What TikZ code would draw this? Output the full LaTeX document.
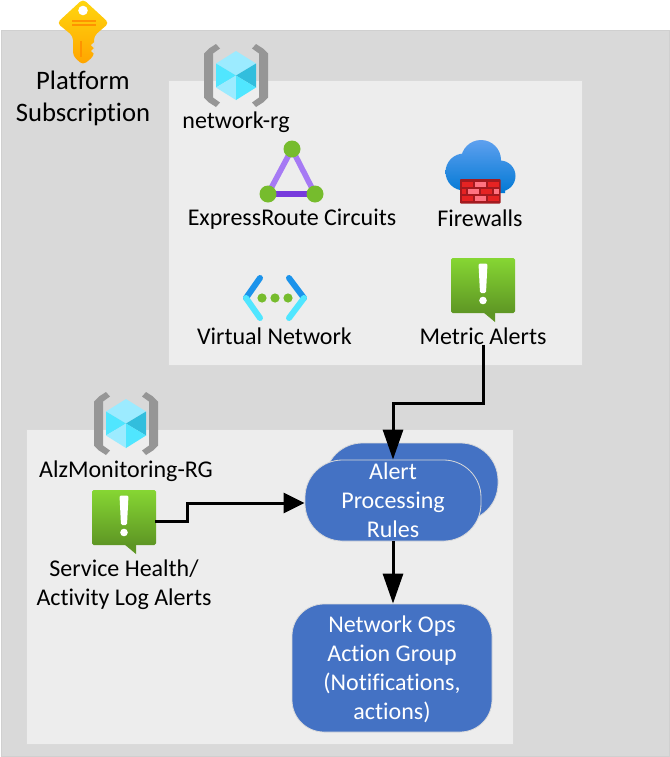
\documentclass[tikz,border=0pt]{standalone}
\usepackage{fontspec}
\setmainfont[Ligatures=NoCommon]{Carlito}
\usetikzlibrary{arrows.meta}
\definecolor{outerfill}{HTML}{D9D9D9}
\definecolor{outerline}{HTML}{D0D0D0}
\definecolor{innerfill}{HTML}{EDEDED}
\definecolor{innerline}{HTML}{DADADA}
\definecolor{flowblue}{HTML}{4472C4}
\definecolor{leafgreen}{HTML}{76BC2D}
\definecolor{bracketgray}{HTML}{969696}
\tikzset{
  x=0.75pt,y=-0.75pt,
  groupbox/.style={draw=#1,line width=0.75pt},
  lbl/.style={inner sep=0pt,align=center,font=\fontsize{18}{21.75}\selectfont,text=black},
  biglbl/.style={inner sep=0pt,align=center,font=\fontsize{20}{24}\selectfont,text=black},
  flowbox/.style={fill=flowblue,draw=#1,line width=0.6pt,inner sep=0pt,align=center,text=white,font=\fontsize{18}{21.75}\selectfont},
  alertbox/.style={inner sep=0pt,minimum width=48pt,minimum height=41.25pt,rounded corners=1.2pt,top color=alerttop,bottom color=alertbot,draw=none},
  flow/.style={draw=black,line width=2.25pt,-{Triangle[length=#1,width=15pt]}},
  rg/.pic={
    \fill[bracketgray] (-20,-31.5) -- (-27,-27) -- (-32,-22) -- (-32,22) -- (-27,27) -- (-20,31.5) -- (-16,27) -- (-23,22) -- (-23,-22) -- (-16,-27) -- cycle;
    \fill[bracketgray] (20,-31.5) -- (27,-27) -- (32,-22) -- (32,22) -- (27,27) -- (20,31.5) -- (16,27) -- (23,22) -- (23,-22) -- (16,-27) -- cycle;
    \fill[cubetop] (0,-24.5) -- (20,-12) -- (0,0) -- (-20,-12) -- cycle;
    \fill[cubeleft] (-20,-12) -- (0,0) -- (-20,12) -- cycle;
    \fill[cubedark] (20,-12) -- (20,12) -- (0,0) -- cycle;
    \fill[cubetop] (-20,12) -- (0,0) -- (0,24.5) -- cycle;
    \fill[cubeleft] (20,12) -- (0,0) -- (0,24.5) -- cycle;
  }
}
\definecolor{alerttop}{HTML}{86D633}
\definecolor{alertbot}{HTML}{5E9624}
\definecolor{cubetop}{HTML}{9CEBFF}
\definecolor{cubeleft}{HTML}{50E6FF}
\definecolor{cubedark}{HTML}{32BEDD}
\definecolor{keytop}{HTML}{FFD70F}
\definecolor{keybot}{HTML}{FFA400}
\definecolor{keystripe}{HTML}{FF9300}
\definecolor{cloudtop}{HTML}{5EA0EF}
\definecolor{cloudbot}{HTML}{0078D4}
\definecolor{brickdark}{HTML}{A31A1F}
\definecolor{brickred}{HTML}{E62323}
\definecolor{brickpink}{HTML}{FF7381}
\definecolor{routelight}{HTML}{A67AF4}
\definecolor{routedark}{HTML}{773ADC}
\definecolor{vnetdark}{HTML}{1B93EB}
\definecolor{vnetlight}{HTML}{50E6FF}
\newcommand{\exclaim}[2]{%
  \fill[white,rounded corners=1pt] (#1-4.5,#2-20) -- (#1+4.5,#2-20) -- (#1+3,#2+9.5) -- (#1-3,#2+9.5) -- cycle;
  \fill[white] (#1,#2+17) circle (3.8);
}
\newcommand{\lowered}[1]{\raisebox{-6.2pt}[0pt][0pt]{\begin{tabular}{@{}c@{}}#1\end{tabular}}}
\begin{document}
\begin{tikzpicture}
\useasboundingbox (0,0) rectangle (670,757);
\fill[white] (0,0) rectangle (670,757);
% containers
\path[groupbox=outerline,fill=outerfill] (1,30) rectangle (669,756);
\path[groupbox=innerline,fill=innerfill] (168.5,80.5) rectangle (582,365);
\path[groupbox=innerline,fill=innerfill] (26.8,429.5) rectangle (513,744);
% key
\shade[top color=keytop,bottom color=keybot,rounded corners=3pt]
  (83,-1) -- (109,23) -- (94,36) -- (94,56) -- (83,65) -- (73,56) -- (73,36) -- (57,23) -- cycle;
\fill[white] (83,10.5) circle (4.8);
\fill[keystripe] (72,20) rectangle (96,22);
\fill[keystripe] (72,24) rectangle (96,26);
\fill[keystripe] (80,41) rectangle (81.5,57);
\fill[outerfill] (94.5,42) -- (91,45) -- (94,48) -- (91,51) -- (94.5,54) -- cycle;
\node[biglbl] (platform) at (83,98) {Platform\\Subscription};
% resource groups
\pic at (236,75.5) {rg};
\node[lbl] (netrg) at (236,122.5) {network-rg};
\pic at (126,423.5) {rg};
\node[lbl] (alzrg) at (126,471) {AlzMonitoring-RG};
% expressroute
\draw[routelight,line width=4.2pt] (268,194) -- (292,149) -- (315,194);
\draw[routedark,line width=5pt] (268,194) -- (315,194);
\fill[leafgreen] (292,149) circle (8.5) (268,194) circle (8.5) (315,194) circle (8.5);
\node[lbl] (express) at (292,219) {ExpressRoute Circuits};
% firewall
\begin{scope}
\clip (481,160) circle (20) (464,172) circle (18.5) (500,176) circle (15.5) (505,172) rectangle (460,193);
\shade[top color=cloudtop,bottom color=cloudbot] (440,140) rectangle (520,194);
\end{scope}
\fill[brickdark,rounded corners=0.6pt] (460,179) rectangle (500.5,203.5);
\foreach \xa/\xb/\ya/\c in {462/473/181.5/brickred,475/486/181.5/brickpink,488/499/181.5/brickred,
  462/466/188.5/brickred,468/479/188.5/brickpink,481/492/188.5/brickred,494/499/188.5/brickpink,
  462/473/195.5/brickred,475/486/195.5/brickpink,488/499/195.5/brickred}
  \fill[\c] (\xa,\ya) rectangle (\xb,\ya+5.5);
\node[lbl] (fw) at (480,218) {Firewalls};
% virtual network
\draw[vnetdark,line width=4.5pt,line cap=round] (260,278) -- (246,298);
\draw[vnetlight,line width=4.5pt,line cap=round] (246,298) -- (260,318);
\draw[vnetdark,line width=4.5pt,line cap=round] (289,278) -- (304,298);
\draw[vnetlight,line width=4.5pt,line cap=round] (304,298) -- (289,318);
\fill[leafgreen] (262,298) circle (4.6) (275,298) circle (4.6) (288,298) circle (4.6);
\node[lbl] (vnet) at (274.5,336) {Virtual Network};
% metric alert
\node[alertbox] (metric) at (483,285.5) {};
\fill[alertbot] (483,312) -- (495,322) -- (495,312) -- cycle;
\exclaim{483}{283.5}
\node[lbl] (metriclbl) at (483,336) {Metric Alerts};
% service alert
\node[alertbox] (svc) at (124,517.5) {};
\fill[alertbot] (124,544) -- (136,554) -- (136,544) -- cycle;
\exclaim{124}{515.5}
\node[lbl] (svclbl) at (124,584.5) {Service Health/\\Activity Log Alerts};
% flow boxes
\node[flowbox=innerline,rounded corners=28pt,minimum width=129.75pt,minimum height=58.5pt] (aprback) at (411.5,482) {};
\node[flowbox=innerline,rounded corners=28pt,minimum width=132pt,minimum height=60.75pt] (apr) at (393,500.5) {\lowered{Alert\\Processing\\Rules}};
\node[flowbox=innerline,rounded corners=24pt,minimum width=150pt,minimum height=96pt] (action) at (392,668) {\lowered{Network Ops\\Action Group\\(Notifications,\\actions)}};
% connectors
\coordinate (elbowa) at (393,403);
\coordinate (svcout) at (155,521.5);
\coordinate (elbowb) at (187,503);
\draw[flow=22.5pt] (metriclbl.south) |- (elbowa) -- (apr.north);
\draw[flow=22.5pt] (apr.south) -- (apr.south |- action.north);
\draw[flow=15.75pt] (svcout) -| (elbowb) -- (apr.west |- elbowb);
\end{tikzpicture}
\end{document}
